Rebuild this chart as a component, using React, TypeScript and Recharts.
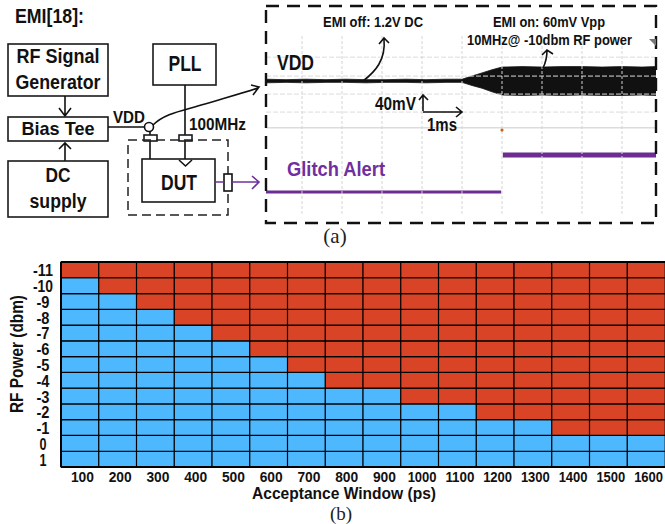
import {
  Area,
  Bar,
  BarChart,
  Cell,
  ComposedChart,
  Line,
  ReferenceDot,
  ReferenceLine,
  XAxis,
  YAxis,
} from 'recharts';

// heat map (b)
const acceptanceWindows = ['100', '200', '300', '400', '500', '600', '700', '800', '900', '1000', '1100', '1200', '1300', '1400', '1500', '1600'];
const rfPowers = ['-11', '-10', '-9', '-8', '-7', '-6', '-5', '-4', '-3', '-2', '-1', '0', '1'];
// how many cells are blue in each column, counted from the bottom row
const blueCounts = [12, 11, 10, 9, 8, 7, 6, 5, 5, 4, 4, 3, 3, 2, 2, 2];

// scope trace (a)
const scopeTimes = [-5.9, -5.4, -4.9, -4.4, -3.9, -3.4, -2.9, -2.4, -1.9, -1.4, -1, -0.75, -0.5, -0.25, 0, 0.5, 1, 1.5, 2, 2.5, 3, 3.5, 3.85];
const vddLow = [1196, 1197, 1196, 1197, 1197, 1196, 1197, 1197, 1196, 1197, 1197, 1190, 1184, 1176, 1169, 1168, 1169, 1168, 1169, 1168, 1168, 1169, 1168];
const vddHigh = [1204, 1203, 1204, 1203, 1204, 1203, 1203, 1204, 1203, 1204, 1204, 1211, 1218, 1225, 1231, 1232, 1231, 1232, 1232, 1231, 1232, 1231, 1232];
const glitchLowTimes = [-5.9, -0.02];
const glitchHighTimes = [0.02, 3.85];
const glitchLowLevel = 0;
const glitchHighLevel = 2.05;
const timeTicks = [-5, -4, -3, -2, -1, 0, 1, 2, 3];
const timeLabels = ['-5.0s', '-4.0s', '-3.0s', '-2.0s', '-1.0s', '0s', '1.0s', '2.0s', '3.0s'];
const vddGrid = [1253, 1211, 1171, 1131];
const glitchTicks = [2.4, 1.4, 0.5, 0, -0.5];
const glitchTickLabels = ['2.4', '1.4', '500 m', '0', '-500 m'];

const heatRows = acceptanceWindows.map((w) => {
  const row: Record<string, string | number> = { window: w };
  rfPowers.forEach((p) => {
    row[p] = 1;
  });
  return row;
});

const scopeRows = [
  ...scopeTimes.map((t, i) => ({ t, vdd: [vddLow[i], vddHigh[i]], mid: (vddLow[i] + vddHigh[i]) / 2 })),
  ...glitchLowTimes.map((t) => ({ t, low: glitchLowLevel })),
  ...glitchHighTimes.map((t) => ({ t, high: glitchHighLevel })),
].sort((a, b) => a.t - b.t);

const BLUE = '#4db8fd';
const RED = '#d94426';
const PURPLE = '#6d2c91';
const SANS = '"Liberation Sans", Arial, sans-serif';
const TIME_DOMAIN = [-5.9, 3.875];
const VDD_DOMAIN = [886.7, 1366.7];

// the reference's type is narrow, so every label is squeezed to its measured width
const Label = ({ x, y, size, w, fill = '#111', anchor = 'middle', transform, children }: any) => (
  <text
    x={x}
    y={y}
    fontFamily={SANS}
    fontWeight="bold"
    fontSize={size}
    fill={fill}
    textAnchor={anchor}
    textLength={w}
    lengthAdjust="spacingAndGlyphs"
    transform={transform}
  >
    {children}
  </text>
);

const RowTick = ({ x, y, payload }: any) => {
  const text = rfPowers[Math.round(12.5 - payload.value)];
  return (
    <Label x={x - 10} y={y + 6.5} size={16} w={text.length === 3 ? 20 : text.length === 2 ? 13 : 7}>
      {text}
    </Label>
  );
};

const WindowTick = ({ x, y, payload }: any) => (
  <Label x={x + 2.500} y={y + 9} size={14.500} w={payload.value.length === 4 ? 29 : 23}>
    {payload.value}
  </Label>
);

function HeatMap() {
  return (
    <BarChart
      width={665}
      height={248}
      data={heatRows}
      barCategoryGap={0}
      margin={{ top: 7, right: 0, bottom: 0, left: 0 }}
      style={{ position: 'absolute', left: 0, top: 255 }}
    >
      <XAxis
        dataKey="window"
        interval={0}
        height={36}
        tickLine={false}
        tickMargin={0}
        axisLine={{ stroke: '#000', strokeWidth: 2 }}
        tick={<WindowTick />}
        label={{
          position: 'insideBottom',
          content: () => (
            <Label x={344} y={244} size={16} w={184}>
              Acceptance Window (ps)
            </Label>
          ),
        }}
      />
      <YAxis
        type="number"
        domain={[0, 13]}
        ticks={rfPowers.map((_, i) => 12.5 - i)}
        interval={0}
        width={61}
        tickLine={false}
        axisLine={{ stroke: '#000', strokeWidth: 2 }}
        tick={<RowTick />}
        label={{
          position: 'insideLeft',
          content: () => (
            <Label x={23} y={99} size={17.500} w={118} transform="rotate(-90 23 99)">
              RF Power (dbm)
            </Label>
          ),
        }}
      />
      {[...rfPowers].reverse().map((p, rowIndex) => (
        <Bar key={p} dataKey={p} stackId="cells" isAnimationActive={false}>
          {blueCounts.map((count, col) => (
            <Cell key={col} fill={rowIndex < count ? BLUE : RED} stroke="#000" strokeWidth={1.2} />
          ))}
        </Bar>
      ))}
      <ReferenceLine y={13} stroke="#000" strokeWidth={2} />
    </BarChart>
  );
}

function ScopeTrace() {
  return (
    <ComposedChart
      width={391}
      height={216}
      data={scopeRows}
      margin={{ top: 0, right: 0, bottom: 0, left: 0 }}
      style={{ position: 'absolute', left: 266, top: 6 }}
    >
      <XAxis
        dataKey="t"
        type="number"
        domain={TIME_DOMAIN}
        ticks={timeTicks}
        tickFormatter={(v) => timeLabels[timeTicks.indexOf(v)]}
        height={0}
        mirror
        axisLine={false}
        tickLine={false}
        tick={{ fontSize: 4, fill: '#999', fontFamily: SANS, dy: -3 }}
      />
      <YAxis yAxisId="vdd" type="number" domain={VDD_DOMAIN} hide />
      <YAxis
        yAxisId="glitch"
        type="number"
        orientation="right"
        domain={[-1.667, 10.333]}
        ticks={glitchTicks}
        tickFormatter={(v) => glitchTickLabels[glitchTicks.indexOf(v)]}
        mirror
        width={0}
        axisLine={false}
        tickLine={false}
        tick={{ fontSize: 4, fill: '#8a6aa0', fontFamily: SANS }}
      />
      <Area
        yAxisId="vdd"
        dataKey="vdd"
        type="linear"
        stroke="#111"
        strokeWidth={0.8}
        fill="#111"
        fillOpacity={1}
        connectNulls
        dot={false}
        activeDot={false}
        isAnimationActive={false}
      />
      <Line yAxisId="glitch" dataKey="low" stroke={PURPLE} strokeWidth={3.2} dot={false} connectNulls isAnimationActive={false} />
      <Line yAxisId="glitch" dataKey="high" stroke={PURPLE} strokeWidth={5} dot={false} connectNulls isAnimationActive={false} />
    </ComposedChart>
  );
}

// the scope's graticule sits on top of the trace, so it gets its own transparent layer
function ScopeGrid() {
  return (
    <ComposedChart
      width={391}
      height={216}
      data={scopeRows}
      margin={{ top: 0, right: 0, bottom: 0, left: 0 }}
      style={{ position: 'absolute', left: 266, top: 6 }}
    >
      <XAxis dataKey="t" type="number" domain={TIME_DOMAIN} height={0} axisLine={false} tickLine={false} tick={false} />
      <YAxis yAxisId="vdd" type="number" domain={VDD_DOMAIN} width={0} axisLine={false} tickLine={false} tick={false} />
      <Line yAxisId="vdd" dataKey="mid" stroke="none" dot={false} connectNulls isAnimationActive={false} />
      {vddGrid.map((v) => (
        <ReferenceLine key={v} yAxisId="vdd" y={v} stroke="#dcdcdc" strokeWidth={1} strokeDasharray="5 2" />
      ))}
      <ReferenceLine yAxisId="vdd" y={1096} stroke="#dcdcdc" strokeWidth={1.6} />
      {timeTicks.map((t) => (
        <ReferenceLine
          key={t}
          yAxisId="vdd"
          segment={[
            { x: t, y: 1300 },
            { x: t, y: 905 },
          ]}
          stroke="#d4d4d4"
          strokeWidth={1}
          strokeDasharray="3 2"
        />
      ))}
      <ReferenceDot yAxisId="vdd" x={0} y={1091} r={1.6} fill="#c8641e" stroke="none" />
    </ComposedChart>
  );
}

function Annotations() {
  const box = { fill: 'none', stroke: '#1a1a1a', strokeWidth: 1.6 };
  const wire = { fill: 'none', stroke: '#111', strokeWidth: 1.6 };
  return (
    <svg width={665} height={524} style={{ position: 'absolute', left: 0, top: 0 }}>
      <Label x={15} y={23} size={20} w={69} anchor="start">EMI[18]:</Label>

      <rect x={8} y={44} width={100} height={52} {...box} />
      <Label x={58} y={63} size={19.500} w={83}>RF Signal</Label>
      <Label x={58} y={89} size={19.500} w={85}>Generator</Label>
      <path d="M65,96 V116 M59,108 L65,116 L71,108" {...wire} />

      <rect x={8} y={117} width={100} height={24} {...box} />
      <Label x={58} y={135} size={19} w={73}>Bias Tee</Label>
      <path d="M65,161 V143 M59,149 L65,143 L71,149" {...wire} />

      <rect x={8} y={161} width={100} height={56} {...box} />
      <Label x={58} y={182} size={19.500} w={25}>DC</Label>
      <Label x={58} y={208} size={19.500} w={57}>supply</Label>

      <rect x={153} y={44} width={63} height={41} {...box} />
      <Label x={185} y={71} size={22} w={33}>PLL</Label>
      <path d="M185,85 V135 M185,141 V159" {...wire} />
      <rect x={179} y={135} width={13} height={6} {...box} />

      <rect x={142} y={159} width={73} height={43} {...box} />
      <Label x={179} y={190} size={22} w={36}>DUT</Label>
      <path d="M179,160 L185.500,166 L192,160" {...wire} />

      <path d="M108,127 H145 M150,132 V135 M150,141 V159" {...wire} />
      <circle cx={149} cy={127} r={4.500} {...wire} />
      <rect x={144} y={135} width={13} height={6} {...box} />
      <Label x={113} y={123} size={16.500} w={32} anchor="start">VDD</Label>
      <Label x={189} y={130} size={16.500} w={57} anchor="start">100MHz</Label>

      <rect x={128} y={140} width={100} height={75} fill="none" stroke="#222" strokeWidth={1.5} strokeDasharray="9 5" />
      <rect x={224} y={174} width={8} height={17} fill="#fff" stroke="#111" strokeWidth={1.6} />
      <path d="M215,182 H224 M232,182 H258 M252,176 L259,182 L252,189" fill="none" stroke="#7030a0" strokeWidth={1.6} />
      <path d="M153,125 C165,113 182,111 205,104 C225,98 243,93 258,88 M251,85 L259,87 L253,95" {...wire} />

      <rect x={266} y={6} width={390} height={217} fill="none" stroke="#111" strokeWidth={2.4} strokeDasharray="13 8" />
      <Label x={373} y={27} size={14.500} w={100}>EMI off: 1.2V DC</Label>
      <Label x={549} y={27} size={14.500} w={112}>EMI on: 60mV Vpp</Label>
      <Label x={549.500} y={45} size={14.500} w={165}>10MHz@ -10dbm RF power</Label>
      <Label x={277} y={70} size={22} w={37} anchor="start">VDD</Label>
      <Label x={375} y={110} size={19} w={41} anchor="start">40mV</Label>
      <Label x={427} y={131} size={19} w={30} anchor="start">1ms</Label>
      <Label x={287} y={176} size={21} w={98} fill="#6f2f9f" anchor="start">Glitch Alert</Label>
      <path d="M363,81 C375,72 386,60 384,39 M379,44 L384,38 L389,43" {...wire} />
      <path d="M543,68 C546,62 547,56 547,50 M542,55 L547,50 L553,54" {...wire} />
      <path d="M423,111 V95 M419,100 L423,95 L428,100 M423,112 H461 M456,107 L462,112 L456,117" {...wire} />

      <polygon points="649,39 656,39 656,46" fill="#777" />

      <text x={335} y={243} textAnchor="middle" fontFamily='"Liberation Serif", serif' fontSize={21} fill="#222">(a)</text>
      <text x={341} y={519.500} textAnchor="middle" fontFamily='"Liberation Serif", serif' fontSize={19} fill="#222">(b)</text>
    </svg>
  );
}

export default function App() {
  return (
    <div style={{ position: 'absolute', left: 0, top: 0, width: 665, height: 524, background: '#fff', overflow: 'hidden' }}>
      <ScopeTrace />
      <ScopeGrid />
      <HeatMap />
      <Annotations />
    </div>
  );
}
